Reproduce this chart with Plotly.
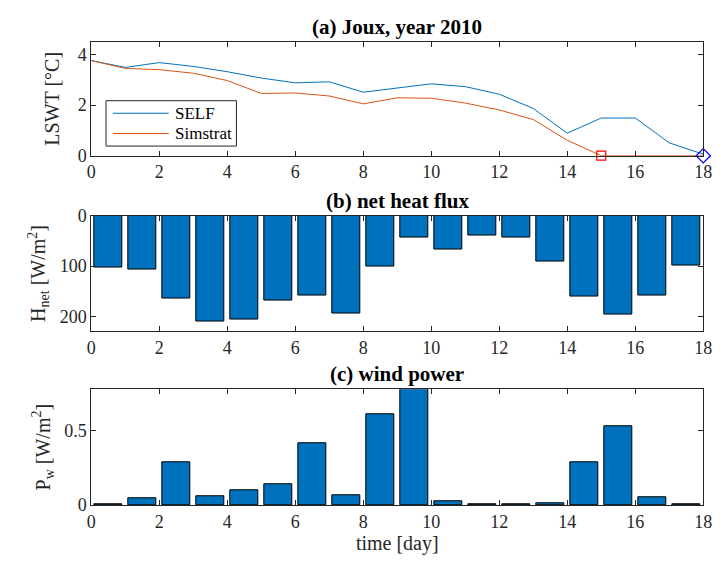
import plotly.graph_objects as go

# Lake surface water temperature (°C) at daily steps
days = list(range(19))
lswt_self = [3.76, 3.49, 3.68, 3.53, 3.32, 3.07, 2.88, 2.92, 2.51, 2.68, 2.84,
             2.73, 2.43, 1.87, 0.89, 1.49, 1.49, 0.51, 0.06]
lswt_simstrat = [3.76, 3.45, 3.40, 3.26, 2.97, 2.46, 2.48, 2.36, 2.05, 2.29, 2.27,
                 2.08, 1.81, 1.43, 0.61, 0.0, 0.0, 0.0, 0.0]

# Ice-on days for each model
ice_day_simstrat = [15]
ice_day_self = [18]
ice_temp = [0]

# Daily means, plotted at mid-day
bar_days = [d + 0.5 for d in range(18)]
heat_flux = [103.5, 107, 164, 209, 205, 169, 159, 193, 100, 43, 67, 39, 44, 91,
             161, 196, 159, 98]
wind_power = [0.003, 0.043, 0.29, 0.06, 0.10, 0.138, 0.416, 0.067, 0.608, 0.778,
              0.028, 0.004, 0.003, 0.015, 0.287, 0.528, 0.05, 0.008]

x_ticks = list(range(0, 19, 2))
series_names = ["SELF", "Simstrat"]

BLUE = "#0072BD"
ORANGE = "#D95319"
AXC = "#262626"
FONT = '"Liberation Serif", "Times New Roman", serif'

fig = go.Figure()

fig.add_trace(go.Scatter(x=days, y=lswt_self, mode="lines", name=series_names[0],
                         showlegend=False, line=dict(color=BLUE, width=1),
                         xaxis="x", yaxis="y"))
fig.add_trace(go.Scatter(x=days, y=lswt_simstrat, mode="lines", name=series_names[1],
                         showlegend=False, line=dict(color=ORANGE, width=1),
                         xaxis="x", yaxis="y"))
fig.add_trace(go.Scatter(x=ice_day_simstrat, y=ice_temp, mode="markers", showlegend=False,
                         marker=dict(symbol="square-open", size=9, color="#FF0000",
                                     line=dict(width=1.2)),
                         cliponaxis=False, xaxis="x", yaxis="y"))
fig.add_trace(go.Scatter(x=ice_day_self, y=ice_temp, mode="markers", showlegend=False,
                         marker=dict(symbol="diamond-open", size=11, color="#0000FF",
                                     line=dict(width=1.2)),
                         cliponaxis=False, xaxis="x", yaxis="y"))

fig.add_trace(go.Bar(x=bar_days, y=heat_flux, width=0.8, showlegend=False,
                     marker=dict(color=BLUE, line=dict(color="black", width=1)),
                     xaxis="x2", yaxis="y2"))
fig.add_trace(go.Bar(x=bar_days, y=wind_power, width=0.8, showlegend=False,
                     marker=dict(color=BLUE, line=dict(color="black", width=1)),
                     xaxis="x3", yaxis="y3"))

W, H = 724, 572
x_dom = [88 / W, 712 / W]


def ydom(top_px, bottom_px):
    return [(H - bottom_px) / H, (H - top_px) / H]


def px(x):
    return x / W


def py(y):
    return (H - y) / H


axis_common = dict(showline=True, linecolor=AXC, linewidth=1, mirror="ticks",
                   ticks="inside", ticklen=5, tickcolor=AXC, showgrid=False,
                   zeroline=False, tickfont=dict(family=FONT, size=18, color=AXC))
title_font = dict(family=FONT, size=20, color=AXC)

xcommon = dict(axis_common, range=[0, 18], tickvals=x_ticks, domain=x_dom)

fig.update_layout(
    width=W, height=H,
    margin=dict(l=0, r=0, t=0, b=0),
    paper_bgcolor="white", plot_bgcolor="white",
    font=dict(family=FONT, color=AXC),
    bargap=0,
    showlegend=False,
    xaxis=dict(xcommon, anchor="y"),
    yaxis=dict(axis_common, range=[0, 4.5], tickvals=[0, 2, 4], domain=ydom(33, 151),
               anchor="x",
               title=dict(text="LSWT [°C]", font=title_font, standoff=12)),
    xaxis2=dict(xcommon, anchor="y2"),
    yaxis2=dict(axis_common, range=[229, 0], tickvals=[0, 100, 200], domain=ydom(213, 333),
                anchor="x2",
                title=dict(text="H<sub>net</sub> [W/m<sup>2</sup>]",
                           font=title_font, standoff=8)),
    xaxis3=dict(xcommon, anchor="y3",
                title=dict(text="time [day]", font=title_font, standoff=4)),
    yaxis3=dict(axis_common, range=[0, 0.778], tickvals=[0, 0.5], domain=ydom(393, 513),
                anchor="x3",
                title=dict(text="P<sub>w</sub> [W/m<sup>2</sup>]",
                           font=title_font, standoff=8)),
)

# Panel titles
titles = [("(a) Joux, year 2010", 33), ("(b) net heat flux", 213), ("(c) wind power", 393)]
for text, top_px in titles:
    fig.add_annotation(text=f"<b>{text}</b>", x=(x_dom[0] + x_dom[1]) / 2,
                       y=py(top_px - 1), xref="paper", yref="paper",
                       xanchor="center", yanchor="bottom", showarrow=False,
                       font=dict(family=FONT, size=21, color="black"))

# Legend box for panel (a)
fig.add_shape(type="rect", xref="paper", yref="paper",
              x0=px(103), x1=px(236), y0=py(141), y1=py(94),
              line=dict(color=AXC, width=1), fillcolor="white", layer="above")
for name, color, ly in zip(series_names, [BLUE, ORANGE], [107, 128]):
    fig.add_shape(type="line", xref="paper", yref="paper",
                  x0=px(110), x1=px(167), y0=py(ly), y1=py(ly),
                  line=dict(color=color, width=1), layer="above")
    fig.add_annotation(text=name, x=px(171), y=py(ly), xref="paper", yref="paper",
                       xanchor="left", yanchor="middle", showarrow=False,
                       font=dict(family=FONT, size=17, color="black"))

fig.write_html("out.html")
